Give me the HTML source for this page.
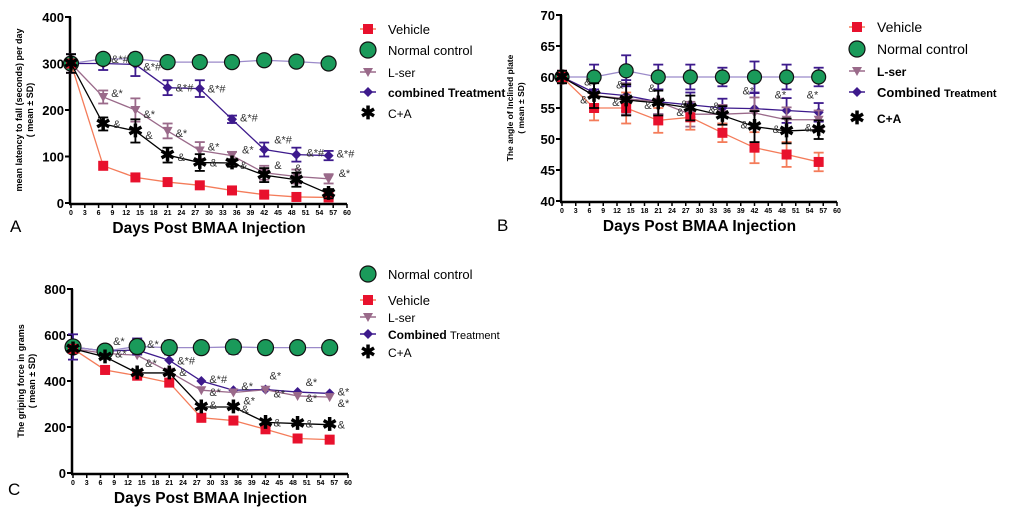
<!DOCTYPE html>
<html><head><meta charset="utf-8"><style>
html,body{margin:0;padding:0;background:#fff;width:1020px;height:513px;overflow:hidden}
svg text{font-family:"Liberation Sans",Arial,sans-serif}
</style></head><body>
<svg id="fig" width="1020" height="513" viewBox="0 0 1020 513" xmlns="http://www.w3.org/2000/svg"></svg>
<script>
const days=[0,7,14,21,28,35,42,49,56];
const xTicks=[0,3,6,9,12,15,18,21,24,27,30,33,36,39,42,45,48,51,54,57,60];
// Panel A
const aVehicle=[300,80,55,45,38,27,18,13,12];
const aNormal=[300,310,310,303,303,303,307,304,300];
const aLser=[300,228,200,155,113,102,65,57,52];
const aComb=[300,300,298,248,246,180,115,104,102];
const aCA=[300,170,155,103,87,86,60,50,20];
const aSD=[20,14,25,16,18,8,15,15,10];
const aYTicks=[0,100,200,300,400];
// Panel B
const bVehicle=[60,55,55,53,53.5,51,48.6,47.5,46.3];
const bNormal=[60,60,61,60,60,60,60,60,60];
const bLser=[60,57,56.5,56,54,54,54.2,53.1,53.1];
const bComb=[60,57.5,57,56,55.5,55,54.9,54.6,54.3];
const bCA=[60,57,56.3,55.8,55,53.8,52,51.3,51.5];
const bSD=[1,2,2.5,2,2,1.5,2.5,2,1.5];
const bYTicks=[40,45,50,55,60,65,70];
// Panel C
const cVehicle=[540,448,423,393,240,228,190,150,145];
const cNormal=[548,530,550,545,545,548,545,545,545];
const cLser=[540,520,512,440,360,350,362,335,330];
const cComb=[548,530,535,490,400,360,363,352,346];
const cCA=[540,505,435,435,287,287,220,215,210];
const cSD=[55,25,35,30,25,30,25,28,28];
const cYTicks=[0,200,400,600,800];

const NS="http://www.w3.org/2000/svg";
const svg=document.getElementById('fig');
function mk(tag,attrs,parent,txt){const e=document.createElementNS(NS,tag);for(const k in attrs)e.setAttribute(k,attrs[k]);if(txt!==undefined)e.textContent=txt;(parent||svg).appendChild(e);return e;}

const C={veh:'#e8112d',vehL:'#f47c5a',nor:'#1a9a5a',norL:'#9b8ac9',ls:'#9a6a8a',cb:'#3d1a8c',ca:'#000'};

function marker(g,type,x,y,s){
  if(type==='sq'){const e=mk('rect',{x:x-5,y:y-5,width:10,height:10,fill:C.veh},g);}
  else if(type==='ci'){const e=mk('circle',{cx:x,cy:y,r:s||7,fill:C.nor,stroke:'#111','stroke-width':1.2},g);}
  else if(type==='tri'){const e=mk('polygon',{points:`${x-5},${y-4} ${x+5},${y-4} ${x},${y+5}`,fill:C.ls},g);}
  else if(type==='di'){const e=mk('polygon',{points:`${x},${y-5} ${x+5},${y} ${x},${y+5} ${x-5},${y}`,fill:C.cb},g);}
  else if(type==='st'){const e=mk('text',{x:x,y:y+6,'font-size':18,'font-weight':'bold','text-anchor':'middle',fill:'#000'},g,'✱');}
}

function panel(o){
  const g=mk('g',{});
  const sx=d=>o.x0+(o.x1-o.x0)*d/60;
  const sy=v=>o.yb+(o.yt-o.yb)*(v-o.ymin)/(o.ymax-o.ymin);
  const ya=mk('line',{x1:o.x0-1,y1:o.yt,x2:o.x0-1,y2:o.yb+1,stroke:'#000','stroke-width':2.5},g);
  const xa=mk('line',{x1:o.x0-2,y1:o.yb+1,x2:o.x1,y2:o.yb+1,stroke:'#000','stroke-width':2.5},g);
  o.yTicks.forEach(v=>{mk('line',{x1:o.x0-6,y1:sy(v),x2:o.x0,y2:sy(v),stroke:'#000','stroke-width':2},g);
    const t=mk('text',{x:o.x0-7,y:sy(v)+5,'font-size':13,'font-weight':'bold','text-anchor':'end'},g,v);});
  xTicks.forEach(d=>{mk('line',{x1:sx(d),y1:o.yb+1,x2:sx(d),y2:o.yb+5,stroke:'#000','stroke-width':1.5},g);
    const t=mk('text',{x:sx(d),y:o.yb+12,'font-size':7,'font-weight':'bold','text-anchor':'middle'},g,d);});
  const xt=mk('text',{x:(o.x0+o.x1)/2,y:o.yb+30,'font-size':15.5,'font-weight':'bold','text-anchor':'middle'},g,'Days Post BMAA Injection');
  const yc=(o.yt+o.yb)/2;
  const yt=mk('text',{x:0,y:0,'font-size':o.ytFs,'font-weight':'bold','text-anchor':'middle',transform:`translate(${o.x0-49},${yc}) rotate(-90)`},g);
  
  mk('tspan',{x:0,dy:0},yt,o.yTitle);mk('tspan',{x:0,dy:11},yt,'( mean ± SD)');
  const series=[[o.comb,C.cb,'di',o.sd,'#3d1a8c'],[o.lser,C.ls,'tri',o.sd,'#9a6a8a'],[o.nor,C.norL,'ci',o.nsd,'#3d1a8c'],[o.veh,C.vehL,'sq',o.vsd,'#f47c5a'],[o.ca,'#000','st',o.sd,'#000']];
  series.forEach(([arr,col,type,sd,ec])=>{
    const pts=arr.map((v,i)=>sx(days[i])+','+sy(v)).join(' ');
    const pl=mk('polyline',{points:pts,fill:'none',stroke:col,'stroke-width':1.3},g);
    if(sd){arr.forEach((v,i)=>{const x=sx(days[i]),a=sy(v+sd[i]),b=sy(v-sd[i]);
      mk('line',{x1:x,y1:a,x2:x,y2:b,stroke:ec,'stroke-width':1.8},g);
      mk('line',{x1:x-5,y1:a,x2:x+5,y2:a,stroke:ec,'stroke-width':1.8},g);
      mk('line',{x1:x-5,y1:b,x2:x+5,y2:b,stroke:ec,'stroke-width':1.8},g);});}
    arr.forEach((v,i)=>marker(g,type,sx(days[i]),sy(v),o.cr));
  });
  o.ann.forEach(([arr,i,txt,dx,dy])=>{const t=mk('text',{x:sx(days[i])+dx,y:sy(arr[i])+dy,'font-size':11,fill:'#333'},g,txt);});
  o.legend.forEach(([type,label,y,fs,fam])=>{
    const lx=o.lx;
    const col={sq:C.vehL,ci:C.norL,tri:C.ls,di:C.cb,st:'#000'}[type];
    if(type!=='st')mk('line',{x1:lx-8,y1:y,x2:lx+8,y2:y,stroke:col,'stroke-width':1.5},g);
    marker(g,type,lx,y,8);
    const t=mk('text',{x:lx+20,y:y+5,'font-size':fs,'font-family':fam||'Liberation Sans','font-weight':fam?'bold':'normal'},g,label);
    
  });
}

panel({name:'panel-a',x0:71,x1:347,yt:17,yb:203,ymin:0,ymax:400,yTicks:aYTicks,yTitle:'mean latency to fall (seconds) per day',ytFs:9,
  veh:aVehicle,nor:aNormal,lser:aLser,comb:aComb,ca:aCA,sd:aSD,nsd:null,vsd:null,cr:7.5,lx:368,
  ann:[[aNormal,1,'&*#',8,4],[aComb,2,'&*#',8,6],[aComb,3,'&*#',8,4],[aComb,4,'&*#',8,4],[aComb,5,'&*#',8,2],[aComb,6,'&*#',10,-6],[aComb,7,'&*#',10,2],[aComb,8,'&*#',8,2],
       [aLser,1,'&*',8,0],[aLser,2,'&*',8,8],[aLser,3,'&*',8,6],[aLser,4,'&*',8,0],[aLser,5,'&*',10,-2],[aLser,8,'&*',10,-2],[aCA,1,'&',10,4],[aCA,2,'&',10,8],[aCA,3,'&',10,6],[aCA,4,'&',10,4],[aCA,5,'&',8,6],[aCA,6,'&',10,-6],[aCA,7,'&',-2,-8]],
  legend:[['sq','Vehicle',29,13],['ci','Normal control',50,13],['tri','L-ser',72,12],['di','combined Treatment',92,12,'Liberation Serif'],['st','C+A',113,12]]});

panel({name:'panel-b',x0:562,x1:837,yt:15,yb:201,ymin:40,ymax:70,yTicks:bYTicks,yTitle:'The angle of Inclined plate',ytFs:8.5,
  veh:bVehicle,nor:bNormal,lser:bLser,comb:bComb,ca:bCA,sd:bSD,nsd:bSD,vsd:bSD,cr:7,lx:857,
  ann:[[bLser,1,'&',-10,-10],[bLser,2,'&',-10,-10],[bLser,3,'&',-10,-10],[bLser,4,'&',-10,-6],[bLser,5,'&',-10,-4],[bComb,6,'&*',-12,-14],[bComb,7,'&*',-12,-12],[bComb,8,'&*',-12,-14],[bCA,1,'&',-14,8],[bCA,2,'&',-14,6],[bCA,3,'&',-14,6],[bCA,4,'&',-14,8],[bCA,5,'&',-14,-2],[bCA,6,'&',-14,2],[bCA,7,'&',-14,2],[bCA,8,'&',-14,2]],
  legend:[['sq','Vehicle',27,14],['ci','Normal control',49,14],['tri','L-ser',71,12,'Liberation Sans'],['di','Combined',92,13,'Liberation Serif'],['st','C+A',118,12,'Liberation Sans']]});

panel({name:'panel-c',x0:73,x1:348,yt:289,yb:473,ymin:0,ymax:800,yTicks:cYTicks,yTitle:'The griping force in grams',ytFs:9,
  veh:cVehicle,nor:cNormal,lser:cLser,comb:cComb,ca:cCA,sd:null,nsd:cSD,vsd:null,cr:8,lx:368,
  ann:[[cComb,1,'&*',8,-6],[cLser,1,'&*',10,4],[cComb,2,'&*',10,-2],[cLser,2,'&*',8,12],[cComb,3,'&*#',8,4],[cLser,3,'&',10,4],[cComb,4,'&*#',8,2],[cLser,4,'&*',8,6],[cComb,5,'&*',8,0],[cLser,5,'&*',10,12],[cComb,6,'&*',4,-10],[cLser,6,'&*',8,8],[cComb,7,'&*',8,-6],[cLser,7,'&*',8,6],[cComb,8,'&*',8,2],[cLser,8,'&*',8,10],[cCA,4,'&',8,2],[cCA,5,'&',8,6],[cCA,7,'&',8,4],[cCA,8,'&',8,4],[cCA,6,'&',8,4]],
  legend:[['ci','Normal control',274,13],['sq','Vehicle',300,13],['tri','L-ser',317,12],['di','Combined',334,12,'Liberation Serif'],['st','C+A',352,12]]});

let t1=mk('text',{x:944,y:97,'font-size':11,'font-weight':'bold'},svg,'Treatment');
let t2=mk('text',{x:450,y:339,'font-size':11},svg,'Treatment');
[['A',10,232],['B',497,231],['C',8,495]].forEach(([s,x,y])=>{const t=mk('text',{x:x,y:y,'font-size':17,'font-family':'Liberation Serif'},svg,s);});
</script>
</body></html>
